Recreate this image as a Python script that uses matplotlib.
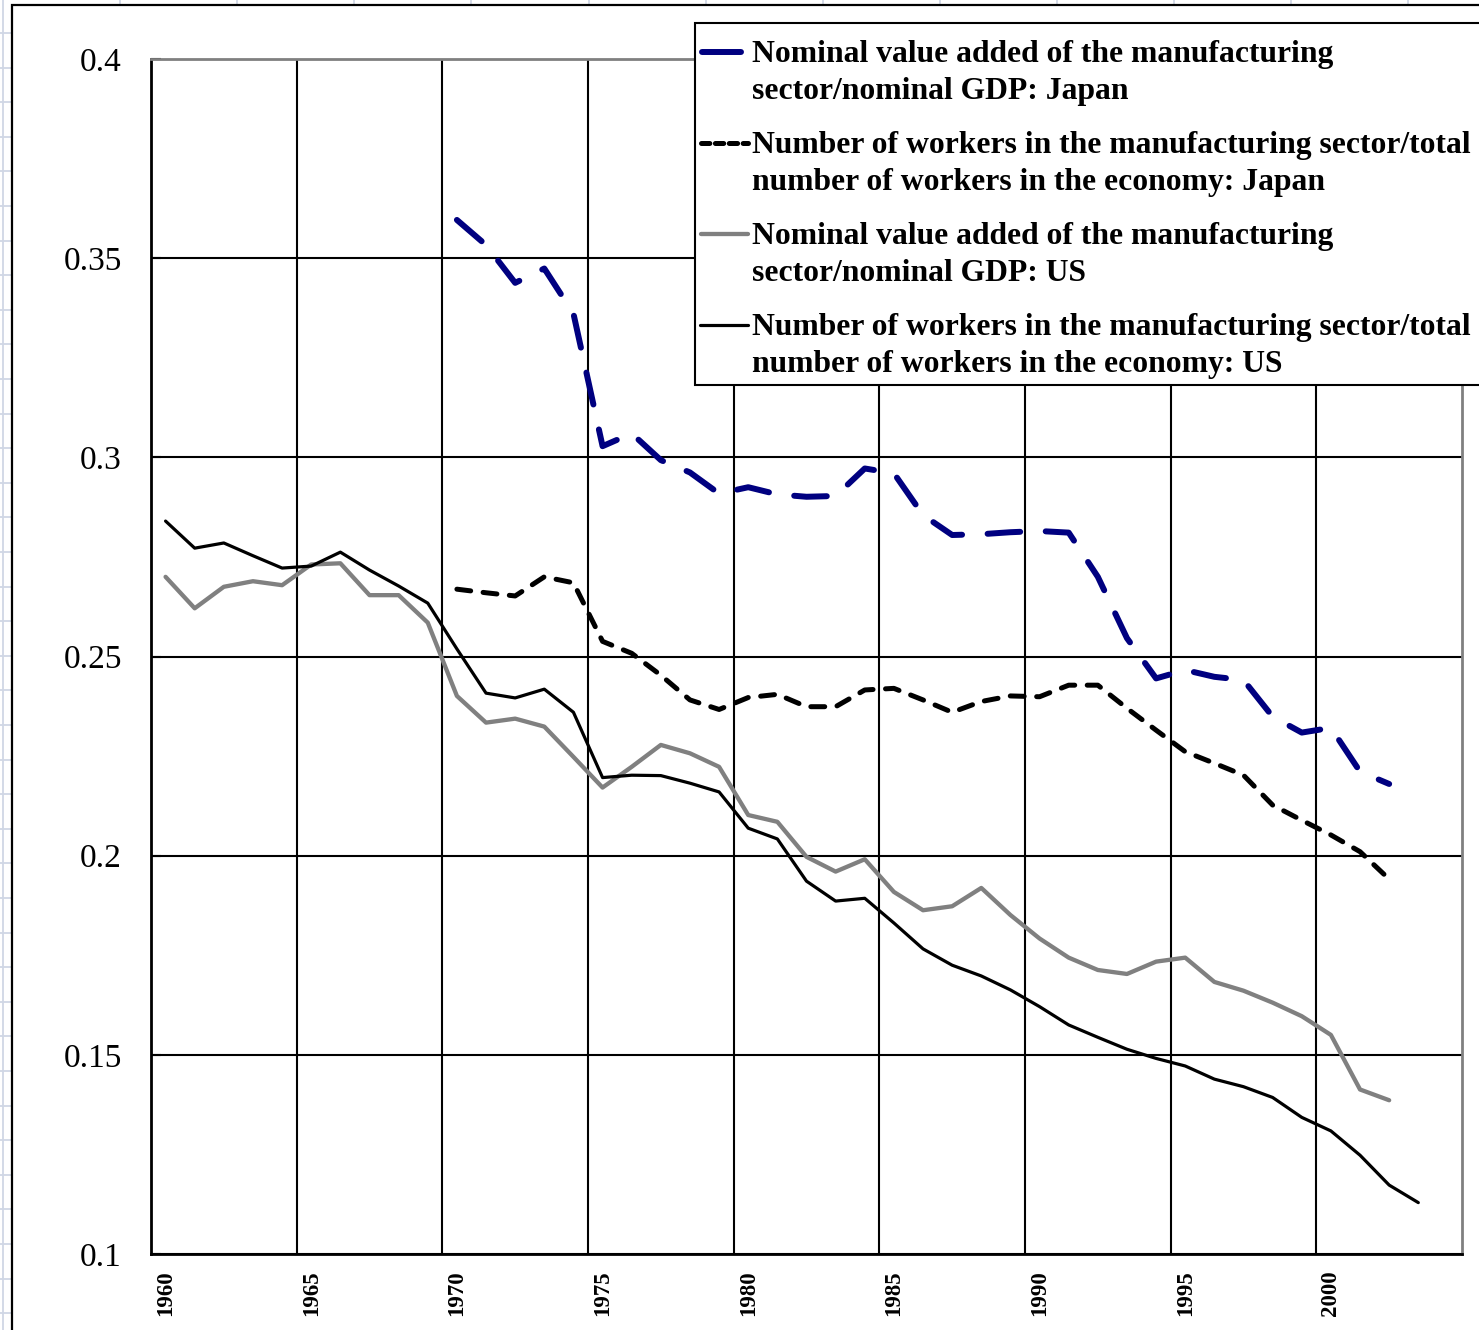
import matplotlib
matplotlib.use('Agg')
import matplotlib.pyplot as plt
from matplotlib.lines import Line2D
from matplotlib.patches import Rectangle
import numpy as np

# ---------------- data ----------------
years_us_workers = list(range(1960, 2004))
us_workers = [0.284, 0.2772, 0.2785, 0.2753, 0.2722, 0.2727, 0.2762, 0.2717, 0.2677, 0.2634,
              0.2519, 0.2408, 0.2396, 0.2418, 0.2360, 0.2196, 0.2202, 0.2201, 0.2182, 0.2160,
              0.2069, 0.2042, 0.1936, 0.1886, 0.1893, 0.1831, 0.1766, 0.1725, 0.1698, 0.1663,
              0.1621, 0.1575, 0.1544, 0.1514, 0.1491, 0.1472, 0.1439, 0.1420, 0.1393, 0.1343,
              0.1309, 0.1248, 0.1173, 0.1129]

years_us_va = list(range(1960, 2003))
us_va = [0.2700, 0.2621, 0.2675, 0.2689, 0.2679, 0.2731, 0.2734, 0.2654, 0.2654, 0.2585,
         0.2401, 0.2334, 0.2344, 0.2324, 0.2248, 0.2171, 0.2223, 0.2278, 0.2257, 0.2223,
         0.2102, 0.2085, 0.1997, 0.1960, 0.1991, 0.1909, 0.1863, 0.1873, 0.1919, 0.1851,
         0.1792, 0.1744, 0.1713, 0.1703, 0.1734, 0.1744, 0.1683, 0.1661, 0.1631, 0.1597,
         0.1550, 0.1413, 0.1386]

years_jp = list(range(1970, 2003))
jp_workers = [0.2669, 0.2660, 0.2652, 0.2700, 0.2685, 0.2538, 0.2508, 0.2453, 0.2391, 0.2367,
              0.2397, 0.2405, 0.2374, 0.2374, 0.2416, 0.2420, 0.2391, 0.2360, 0.2387, 0.2401,
              0.2399, 0.2428, 0.2428, 0.2370, 0.2315, 0.2261, 0.2232, 0.2202, 0.2127, 0.2089,
              0.2052, 0.2010, 0.1941]
jp_va = [0.3596, 0.3533, 0.3438, 0.3474, 0.3361, 0.3028, 0.3060, 0.2993, 0.2962, 0.2909,
         0.2925, 0.2907, 0.2901, 0.2903, 0.2972, 0.2960, 0.2855, 0.2805, 0.2807, 0.2812,
         0.2815, 0.2811, 0.2700, 0.2546, 0.2445, 0.2466, 0.2449, 0.2441, 0.2349, 0.2309,
         0.2321, 0.2211, 0.2180]

ytick_values = [0.1, 0.15, 0.2, 0.25, 0.3, 0.35, 0.4]
ytick_labels = ['0.1', '0.15', '0.2', '0.25', '0.3', '0.35', '0.4']
xtick_years = [1960, 1965, 1970, 1975, 1980, 1985, 1990, 1995, 2000]

legend_labels = [
    ["Nominal value added of the manufacturing", "sector/nominal GDP: Japan"],
    ["Number of workers in the manufacturing sector/total", "number of workers in the economy: Japan"],
    ["Nominal value added of the manufacturing", "sector/nominal GDP: US"],
    ["Number of workers in the manufacturing sector/total", "number of workers in the economy: US"],
]

# ---------------- styles ----------------
W, H = 1479, 1330
plt.rcParams['font.family'] = ['Liberation Serif', 'DejaVu Serif']
plt.rcParams['lines.scale_dashes'] = False

NAVY = '#000080'
GRAY = '#808080'
styles = [
    dict(color=NAVY, lw=4.3, dashes=(23.5, 18.4), dash_capstyle='round', dash_joinstyle='round'),
    dict(color='black', lw=3.6, dashes=(10.0, 9.0), dash_capstyle='round', dash_joinstyle='round'),
    dict(color=GRAY, lw=3.1, solid_joinstyle='round', solid_capstyle='round'),
    dict(color='black', lw=2.3, solid_joinstyle='round', solid_capstyle='round'),
]

fig = plt.figure(figsize=(W / 100, H / 100), dpi=100)
fig.patch.set_facecolor('white')


def fx(px):
    return px / W


def fy(py):
    return 1 - py / H


# Excel cell grid visible outside the chart frame
grid_color = '#D0D7E5'
for k in range(13):
    x = 3 + 117.1 * k
    fig.add_artist(Line2D([fx(x), fx(x)], [0, 1], color=grid_color, lw=1.3, zorder=-3))
for k in range(-1, 40):
    y = 33 + 34.6 * k
    fig.add_artist(Line2D([0, 1], [fy(y), fy(y)], color=grid_color, lw=1.3, zorder=-3))

# chart frame (extends past bottom/right edges)
fig.add_artist(Rectangle((fx(12), -0.02), 1.2, fy(5) + 0.02, transform=fig.transFigure,
                         facecolor='white', edgecolor='black', lw=1.6, zorder=-2))

ax = fig.add_axes([fx(151), fy(1254), fx(1462) - fx(151), fy(59) - fy(1254)])
ax.set_facecolor('white')

ax.plot(years_jp, jp_va, **styles[0], zorder=5)
ax.plot(years_jp, jp_workers, **styles[1], zorder=5)
ax.plot(years_us_va, us_va, **styles[2], zorder=4)
ax.plot(years_us_workers, us_workers, **styles[3], zorder=4)

ax.set_xlim(1959.5, 2004.5)
ax.set_ylim(0.1, 0.4)

ax.set_yticks(ytick_values)
ax.set_yticklabels(ytick_labels, fontsize=24)
ax.set_xticks(xtick_years)
ax.set_xticklabels([str(y) for y in xtick_years], rotation=90, fontsize=16.5, fontweight='bold')
ax.set_xticks(np.arange(1964.5, 2000, 5), minor=True)

ax.yaxis.grid(True, color='black', lw=1.5)
ax.xaxis.grid(True, which='minor', color='black', lw=1.5)
ax.tick_params(axis='y', direction='in', length=7, width=1.5, pad=21, colors='black')
ax.tick_params(axis='x', which='both', length=0, pad=12)

for side in ['left', 'bottom']:
    ax.spines[side].set_color('black')
    ax.spines[side].set_linewidth(2.0)
for side in ['top', 'right']:
    ax.spines[side].set_color(GRAY)
    ax.spines[side].set_linewidth(2.0)

# ---------------- legend (Excel style: handle aligned to first line) ----------------
fig.add_artist(Rectangle((fx(695), fy(385)), 1.0, fy(23) - fy(385), transform=fig.transFigure,
                         facecolor='white', edgecolor='black', lw=1.5, zorder=10))
centers = [52, 143, 234, 325]
handle_x = [(702, 741), (701, 748), (701, 748), (700, 748)]
for i, (lab, st) in enumerate(zip(legend_labels, styles)):
    c = centers[i]
    st2 = dict(st)
    if i == 0:
        st2 = dict(color=NAVY, lw=4.3, solid_capstyle='round')
    elif i == 1:
        st2 = dict(color='black', lw=3.6, dashes=(6.0, 4.0), dash_capstyle='round')
    x0, x1 = handle_x[i]
    fig.add_artist(Line2D([fx(x0), fx(x1)], [fy(c), fy(c)], zorder=11, **st2))
    fig.text(fx(752), fy(c + 10), lab[0], fontsize=22.8, fontweight='bold',
             va='baseline', ha='left', zorder=12)
    fig.text(fx(752), fy(c + 47), lab[1], fontsize=22.8, fontweight='bold',
             va='baseline', ha='left', zorder=12)

fig.savefig('out.png', dpi=100, facecolor='white')
